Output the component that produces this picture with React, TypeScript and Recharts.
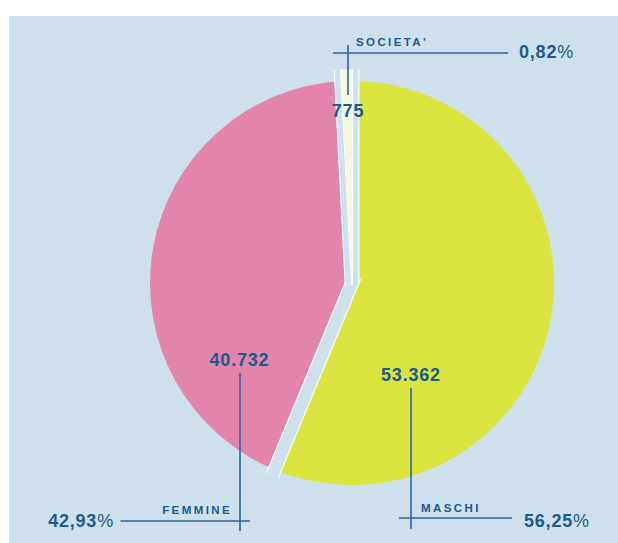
import { PieChart, Pie, Cell } from "recharts";

const categories = ["MASCHI", "FEMMINE", "SOCIETA'"];
const counts = [53362, 40732, 775];
const sliceColors = ["#dae53f", "#e385ab", "#f6f7e0"];

const pieData = categories.map((name, i) => ({ name, value: counts[i] }));

const BG = "#cde0eb";
const INK = "#1b5a90";
const RULE = "#2a6599";
const FONT = "'Liberation Sans', Arial, sans-serif";

const CX = 352;
const CY = 283;
const R = 202;
const R_SLIVER = 214; // the tiny slice sticks out a little

// callout placement, offsets from the pie centre
type Callout = {
  valueAt: [number, number];
  stemX: number;
  stemY: [number, number];
  ruleY: number;
  ruleX: [number, number];
  nameAt: [number, number];
  nameAnchor: "start" | "end";
  pctAt: [number, number];
  pctAnchor: "start" | "end";
};

const callouts: Callout[] = [
  {
    valueAt: [59, 98],
    stemX: 59,
    stemY: [105, 246],
    ruleY: 235,
    ruleX: [47, 160],
    nameAt: [69, 229],
    nameAnchor: "start",
    pctAt: [172, 244],
    pctAnchor: "start",
  },
  {
    valueAt: [-112.5, 83],
    stemX: -112,
    stemY: [90, 248],
    ruleY: 238,
    ruleX: [-231.5, -102],
    nameAt: [-120, 231],
    nameAnchor: "end",
    pctAt: [-238, 243.5],
    pctAnchor: "end",
  },
  {
    valueAt: [-4, -166],
    stemX: -4,
    stemY: [-238, -188],
    ruleY: -230,
    ruleX: [-19, 156],
    nameAt: [4, -237],
    nameAnchor: "start",
    pctAt: [167, -225],
    pctAnchor: "start",
  },
];

const total = counts.reduce((a, b) => a + b, 0);
const isSliver = (i: number) => counts[i] / total < 0.02;

const fmtCount = (v: number) =>
  String(v).replace(/\B(?=(\d{3})+(?!\d))/g, ".");
const fmtPct = (p: number) => (p * 100).toFixed(2).replace(".", ",");

// a light-blue gap with white edges running out from the centre
function gap(
  cx: number,
  cy: number,
  angle: number,
  offset: number,
  width: number,
  from: number,
  to: number,
  key: string
) {
  const a = (angle * Math.PI) / 180;
  const ux = Math.cos(a);
  const uy = -Math.sin(a);
  const nx = Math.sin(a);
  const ny = Math.cos(a);
  const ox = cx + nx * offset;
  const oy = cy + ny * offset;
  const p = {
    x1: ox + ux * from,
    y1: oy + uy * from,
    x2: ox + ux * to,
    y2: oy + uy * to,
  };
  return (
    <g key={key}>
      <line {...p} stroke="#fff" strokeWidth={width} />
      <line {...p} stroke={BG} strokeWidth={width - 2.2} />
    </g>
  );
}

const renderOverlay = (props: any) => {
  const { cx, cy, startAngle, endAngle, index, value, percent } = props;
  const n = counts.length;
  const prev = (index - 1 + n) % n;
  const c = callouts[index];

  const gaps = [];
  if (isSliver(index)) {
    gaps.push(gap(cx, cy, startAngle, -3.7, 7.4, -2, R_SLIVER, "s"));
    gaps.push(gap(cx, cy, endAngle, 3.7, 7.4, -2, R_SLIVER, "e"));
  } else if (!isSliver(prev)) {
    gaps.push(gap(cx, cy, startAngle, 0, 14, -7, R + 6, "m"));
  }

  const textStyle = { fontFamily: FONT, fontWeight: 700, fill: INK };

  return (
    <g>
      {gaps}
      <line
        x1={cx + c.stemX}
        x2={cx + c.stemX}
        y1={cy + c.stemY[0]}
        y2={cy + c.stemY[1]}
        stroke={RULE}
        strokeWidth={1.6}
      />
      <line
        x1={cx + c.ruleX[0]}
        x2={cx + c.ruleX[1]}
        y1={cy + c.ruleY}
        y2={cy + c.ruleY}
        stroke={RULE}
        strokeWidth={1.6}
      />
      <text
        x={cx + c.valueAt[0]}
        y={cy + c.valueAt[1]}
        textAnchor="middle"
        fontSize={18}
        letterSpacing={0.8}
        {...textStyle}
      >
        {fmtCount(value)}
      </text>
      <text
        x={cx + c.nameAt[0]}
        y={cy + c.nameAt[1]}
        textAnchor={c.nameAnchor}
        fontSize={11.5}
        letterSpacing={2.4}
        {...textStyle}
      >
        {categories[index]}
      </text>
      <text
        x={cx + c.pctAt[0]}
        y={cy + c.pctAt[1]}
        textAnchor={c.pctAnchor}
        fontSize={18}
        letterSpacing={0.8}
        {...textStyle}
      >
        {fmtPct(percent)}
        <tspan fontWeight={400}>%</tspan>
      </text>
    </g>
  );
};

export default function App() {
  return (
    <div
      style={{
        position: "absolute",
        left: 0,
        top: 0,
        width: 618,
        height: 543,
        background: "#fff",
      }}
    >
      <div
        style={{
          position: "absolute",
          left: 9,
          top: 16,
          right: 0,
          bottom: 0,
          background: BG,
        }}
      />
      <div style={{ position: "absolute", left: 0, top: 0 }}>
        <PieChart
          width={618}
          height={543}
          margin={{ top: 0, right: 0, bottom: 0, left: 0 }}
        >
          <Pie
            data={pieData}
            dataKey="value"
            cx={CX}
            cy={CY}
            outerRadius={R}
            startAngle={90}
            endAngle={-270}
            stroke="none"
            labelLine={false}
            isAnimationActive={false}
          >
            {pieData.map((d, i) => (
              <Cell key={d.name} fill={sliceColors[i]} />
            ))}
          </Pie>
          <Pie
            data={pieData}
            dataKey="value"
            cx={CX}
            cy={CY}
            outerRadius={R_SLIVER}
            startAngle={90}
            endAngle={-270}
            stroke="none"
            label={renderOverlay}
            labelLine={false}
            isAnimationActive={false}
          >
            {pieData.map((d, i) => (
              <Cell
                key={d.name}
                fill={isSliver(i) ? sliceColors[i] : "transparent"}
              />
            ))}
          </Pie>
        </PieChart>
      </div>
    </div>
  );
}
